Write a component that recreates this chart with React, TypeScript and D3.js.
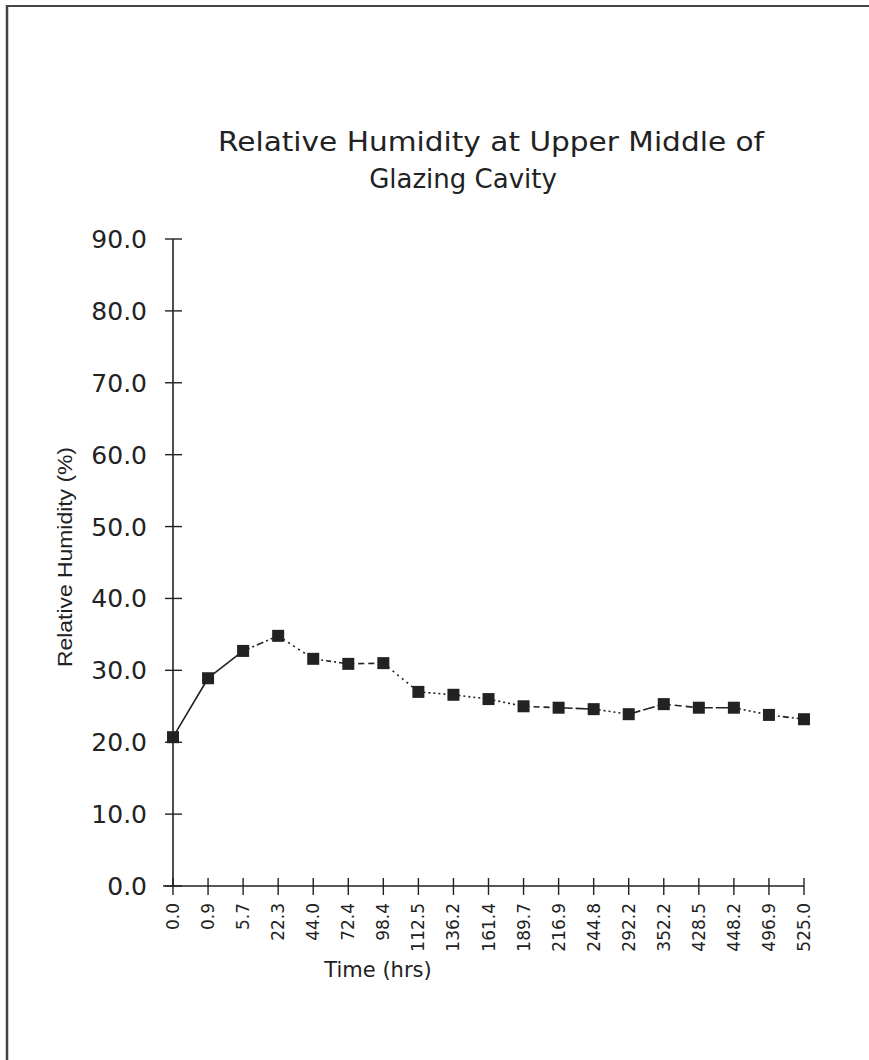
import React from "react";
import * as d3 from "d3";

// ---- data ----
const timeLabels = [
  "0.0", "0.9", "5.7", "22.3", "44.0", "72.4", "98.4", "112.5", "136.2", "161.4",
  "189.7", "216.9", "244.8", "292.2", "352.2", "428.5", "448.2", "496.9", "525.0",
];
const rhValues = [
  20.7, 28.9, 32.7, 34.8, 31.6, 30.9, 31.0, 27.0, 26.6, 26.0,
  25.0, 24.8, 24.6, 23.9, 25.3, 24.8, 24.8, 23.8, 23.2,
];
const yTickValues = [0, 10, 20, 30, 40, 50, 60, 70, 80, 90];
const titleLines = ["Relative Humidity at Upper Middle of", "Glazing Cavity"];
const xAxisTitle = "Time (hrs)";
const yAxisTitle = "Relative Humidity (%)";

// per-segment line patterns (style only)
const segmentDash = [
  "", "", "7 3 2 3", "2 4", "5 3 2 3", "6 4", "2 4", "2 3", "2 3",
  "2 3", "6 4", "14 3", "2 3", "12 3", "7 4", "14 3", "2 3", "6 3 2 3",
];

const W = 869;
const H = 1060;
const INK = "#222";

export default function App() {
  const x = d3.scalePoint<string>().domain(timeLabels).range([173, 804]);
  const y = d3.scaleLinear().domain([0, 90]).range([886, 239]);
  const fmt = d3.format(".1f");
  const pts = rhValues.map((v, i) => [x(timeLabels[i]) as number, y(v)] as [number, number]);
  const lineGen = d3.line();

  return (
    <svg
      width={W}
      height={H}
      style={{ position: "absolute", left: 0, top: 0, background: "#fff" }}
      fontFamily="'DejaVu Sans', sans-serif"
    >
      <rect x={0} y={0} width={W} height={H} fill="#fff" />
      {/* frame (top & left visible) */}
      <line x1={6} y1={6} x2={W} y2={6} stroke="#444" strokeWidth={2} />
      <line x1={7} y1={5} x2={7} y2={H} stroke="#444" strokeWidth={2.5} />

      {/* title */}
      <text x={491} y={151} textAnchor="middle" fontSize={26} fill={INK}
        textLength={546} lengthAdjust="spacingAndGlyphs">
        {titleLines[0]}
      </text>
      <text x={463} y={188} textAnchor="middle" fontSize={26} fill={INK}>
        {titleLines[1]}
      </text>

      {/* y axis */}
      <line x1={173} y1={y(90)} x2={173} y2={y(0)} stroke={INK} strokeWidth={1.6} />
      {yTickValues.map((t) => (
        <g key={t}>
          <line x1={165} x2={182} y1={y(t)} y2={y(t)} stroke={INK} strokeWidth={1.4} />
          <text x={147} y={y(t) + 9} textAnchor="end" fontSize={25} fill={INK}>
            {fmt(t)}
          </text>
        </g>
      ))}
      <text
        transform={`translate(72,557) rotate(-90)`}
        textAnchor="middle"
        fontSize={21}
        fontFamily="'Liberation Sans', sans-serif"
        fill={INK}
        textLength={220}
        lengthAdjust="spacingAndGlyphs"
      >
        {yAxisTitle}
      </text>

      {/* x axis */}
      <line x1={163} y1={y(0)} x2={804} y2={y(0)} stroke={INK} strokeWidth={1.6} />
      {timeLabels.map((c) => (
        <g key={c}>
          <line x1={x(c)} x2={x(c)} y1={878} y2={895} stroke={INK} strokeWidth={1.4} />
          <text
            transform={`translate(${(x(c) as number) + 6},903) rotate(-90)`}
            textAnchor="end"
            fontSize={17}
            fill={INK}
          >
            {c}
          </text>
        </g>
      ))}
      <text x={378} y={977} textAnchor="middle" fontSize={21} fill={INK}>
        {xAxisTitle}
      </text>

      {/* series */}
      {pts.slice(0, -1).map((p, i) => (
        <path
          key={i}
          d={lineGen([p, pts[i + 1]]) || ""}
          fill="none"
          stroke={INK}
          strokeWidth={1.6}
          strokeDasharray={segmentDash[i] || undefined}
        />
      ))}
      {pts.map((p, i) => (
        <rect key={i} x={p[0] - 6} y={p[1] - 6} width={12} height={12} fill={INK} />
      ))}
    </svg>
  );
}
